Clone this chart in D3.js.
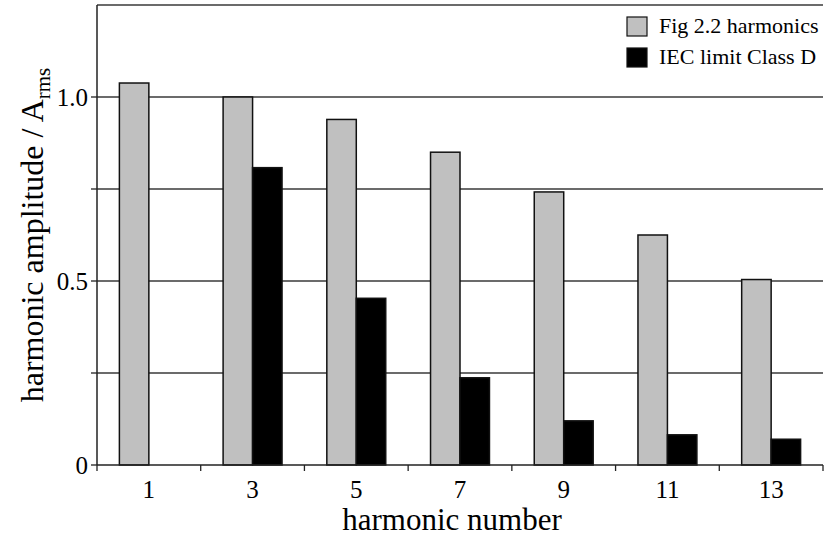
<!DOCTYPE html>
<html>
<head>
<meta charset="utf-8">
<script src="https://cdn.jsdelivr.net/npm/d3@7"></script>
<style>
  body { margin: 0; background: #fff; }
  svg text { font-family: "Liberation Serif", "Times New Roman", Times, serif; fill: #000; }
</style>
</head>
<body>
<svg width="826" height="537"></svg>
<script>
(() => {

    // harmonic numbers on the x axis
    var harmonics = ["1", "3", "5", "7", "9", "11", "13"];
    var seriesNames = ["Fig 2.2 harmonics", "IEC limit Class D"];
    // amplitude / A_rms
    var figValues = [1.038, 1.0, 0.939, 0.850, 0.742, 0.625, 0.504];
    var iecValues = [null, 0.808, 0.453, 0.237, 0.120, 0.082, 0.070];
    var yTicks = [0, 0.25, 0.5, 0.75, 1.0, 1.25];
    var yLabels = { 0: "0", 0.5: "0.5", 1: "1.0" };
    var colors = ["#c0c0c0", "#000000"];

    var serif = "'Liberation Serif', 'Times New Roman', Times, serif";

    var margin = { top: 5, bottom: 72, left: 97, right: 3 };
    var width = 826, height = 537;

    var svg = d3.select("svg").style("font-family", serif);

    var x = d3.scaleBand()
        .domain(harmonics)
        .range([margin.left, width - margin.right])
        .paddingInner(0).paddingOuter(0);

    var x1 = d3.scaleBand()
        .domain(seriesNames)
        .range([0, x.bandwidth()])
        .paddingInner(0)
        .paddingOuter(0.76);

    var y = d3.scaleLinear()
        .domain([0, 1.25])
        .range([height - margin.bottom, margin.top]);

    // grid lines (incl. the top border at 1.25)
    svg.append("g")
        .selectAll("line")
        .data(yTicks.filter(d => d > 0))
        .enter().append("line")
        .attr("x1", margin.left)
        .attr("x2", width - margin.right)
        .attr("y1", d => y(d))
        .attr("y2", d => y(d))
        .attr("stroke", "#3a3a3a")
        .attr("stroke-width", 1.5);

    // bars
    var rows = harmonics.map((h, i) => ({ h: h, vals: [figValues[i], iecValues[i]] }));

    var groups = svg.append("g")
        .selectAll("g")
        .data(rows)
        .enter().append("g")
        .attr("transform", d => "translate(" + x(d.h) + ",0)");

    groups.selectAll("rect")
        .data(d => d.vals.map((v, j) => ({ name: seriesNames[j], v: v, j: j })).filter(d => d.v != null))
        .enter().append("rect")
        .attr("x", d => x1(d.name))
        .attr("width", x1.bandwidth())
        .attr("y", d => y(d.v))
        .attr("height", d => y(0) - y(d.v))
        .attr("fill", d => colors[d.j])
        .attr("stroke", "#111")
        .attr("stroke-width", 1.5);

    // x axis: ticks at band boundaries
    var xAxisG = svg.append("g")
        .attr("transform", "translate(0," + y(0) + ")");

    xAxisG.append("line")
        .attr("x1", margin.left).attr("x2", width - margin.right)
        .attr("stroke", "#222").attr("stroke-width", 1.5);

    var edges = harmonics.map(h => x(h)).concat([x(harmonics[harmonics.length - 1]) + x.bandwidth()]);
    xAxisG.selectAll(".xt")
        .data(edges)
        .enter().append("line")
        .attr("x1", d => d).attr("x2", d => d)
        .attr("y1", 0).attr("y2", 6)
        .attr("stroke", "#222").attr("stroke-width", 1.3);

    xAxisG.selectAll("text")
        .data(harmonics)
        .enter().append("text")
        .attr("x", d => x(d) + x.bandwidth() / 2)
        .attr("y", 33)
        .attr("text-anchor", "middle")
        .style("font-family", serif)
        .style("font-size", "25px")
        .text(d => d);

    // y axis
    var yAxisG = svg.append("g");
    yAxisG.append("line")
        .attr("x1", margin.left).attr("x2", margin.left)
        .attr("y1", y(0)).attr("y2", y(1.25))
        .attr("stroke", "#222").attr("stroke-width", 1.5);

    yAxisG.selectAll(".yt")
        .data(yTicks.filter(d => d < 1.25))
        .enter().append("line")
        .attr("x1", margin.left - 6).attr("x2", margin.left)
        .attr("y1", d => y(d)).attr("y2", d => y(d))
        .attr("stroke", "#222").attr("stroke-width", 1.3);

    yAxisG.selectAll("text")
        .data(yTicks.filter(d => yLabels[d] !== undefined))
        .enter().append("text")
        .attr("x", margin.left - 9)
        .attr("y", d => y(d) + 9)
        .attr("text-anchor", "end")
        .style("font-family", serif)
        .style("font-size", "25px")
        .text(d => yLabels[d]);

    // axis titles
    svg.append("text")
        .attr("x", 452)
        .attr("y", 530)
        .attr("text-anchor", "middle")
        .style("font-family", serif)
        .style("font-size", "31px")
        .text("harmonic number");

    var yt = svg.append("text")
        .attr("transform", "translate(43," + ((y(0) + y(1.25)) / 2) + ") rotate(-90)")
        .attr("text-anchor", "middle")
        .style("font-family", serif)
        .style("font-size", "32px");
    yt.append("tspan").text("harmonic amplitude / A");
    yt.append("tspan").attr("dy", 7).style("font-size", "21px").text("rms");

    // legend
    var legend = svg.append("g")
        .selectAll("g")
        .data(seriesNames)
        .enter().append("g")
        .attr("transform", (d, i) => "translate(627," + (17 + i * 31) + ")");

    legend.append("rect")
        .attr("width", 20).attr("height", 19)
        .attr("fill", (d, i) => colors[i])
        .attr("stroke", "#111").attr("stroke-width", 1.2);

    legend.append("text")
        .attr("x", 32)
        .attr("y", 16)
        .style("font-family", serif)
        .style("font-size", "22px")
        .text(d => d);

})();
</script>
</body>
</html>
